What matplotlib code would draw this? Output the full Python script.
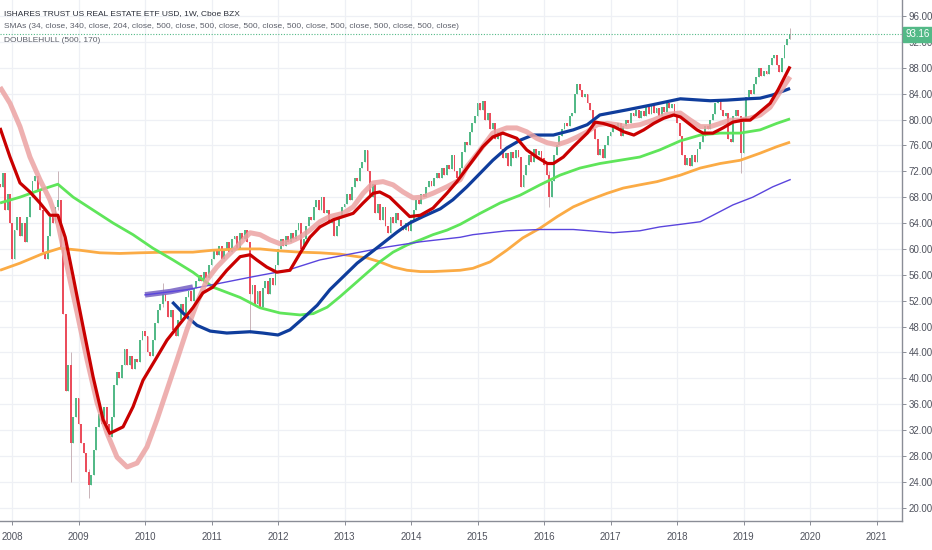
import matplotlib
matplotlib.use("Agg")
import matplotlib.pyplot as plt
import matplotlib.transforms as mtransforms
import numpy as np

# ---------------- data ----------------
# bi-weekly closes per calendar year
c2007 = [69.5, 71.8, 66.0, 68.5, 64.0]
c2008 = [58.5, 63, 65, 62, 64, 61, 65, 68, 70.5, 71.3, 69, 66, 59.5, 58.5, 62, 65, 64, 66.5, 67.5, 60, 50, 38, 42, 30, 34, 37]
c2009 = [33, 30, 28.5, 25.5, 23.5, 25, 29, 32.5, 34.5, 33, 35.5, 33, 31, 34, 39, 41, 40, 42, 44.5, 42, 43.5, 41.5, 43, 42.5, 46, 47.3]
c2010 = [46.5, 44, 43.5, 46, 48.5, 50.5, 51.5, 53, 52, 49.5, 50.5, 47.5, 46.5, 49, 51.5, 50, 52.5, 53.5, 52, 54, 55, 56, 55, 56.5, 55.5, 57.5]
c2011 = [58.5, 60, 59, 60.5, 58.5, 60, 61, 59.5, 61.5, 62, 60, 62.5, 61.5, 63, 61, 53, 54.5, 51.5, 53.5, 51, 54, 55, 53, 55.5, 54.5, 57.5]
c2012 = [60, 61.5, 60.5, 62, 61, 62.5, 61.5, 63, 64, 60, 61.5, 63.5, 65, 64.5, 66.5, 67.5, 66, 68, 65.5, 66, 64, 64.5, 62, 63.5, 65, 66.5]
c2013 = [67, 68.5, 67.5, 69.5, 71, 70.5, 72.5, 73.5, 75.3, 72, 68, 70, 65.5, 67, 64.5, 66.5, 63.5, 62.5, 65, 64, 65.5, 64.5, 63.5, 63, 64, 62.8]
c2014 = [64.5, 66, 67.5, 67, 68.5, 68, 69.5, 70.5, 69.8, 71, 71.8, 71, 72.5, 71.5, 73, 72.3, 74.5, 72, 71, 72.5, 75, 76.5, 76, 78, 79.5, 80.5]
c2015 = [82.5, 81.5, 82.8, 80, 81, 78.5, 79.5, 77, 78, 75.5, 74, 74.8, 72.8, 75, 74, 75.3, 74.2, 69.5, 71.5, 73, 74.5, 73.5, 75.5, 74.5, 75.2, 74]
c2016 = [73, 71.5, 68, 70.5, 74.5, 76, 77.5, 78.5, 79.5, 79, 80.5, 81, 84, 85.5, 84.5, 83.5, 84, 82.5, 81.5, 78.5, 77, 74.5, 75.5, 74, 76, 77.5]
c2017 = [78, 79, 78.5, 79.5, 77.5, 79, 80, 79.5, 81, 80.5, 81.5, 80.2, 81.3, 80.5, 82, 80.8, 82.3, 81, 81.8, 80.6, 82, 81.2, 82.5, 81.8, 82.4, 80.5]
c2018 = [79.5, 77.5, 74.5, 73, 74, 72.8, 74.5, 73.5, 75.5, 76.5, 77.5, 79, 78.5, 80, 80.8, 82.5, 83, 81.5, 80.5, 81, 77, 76.5, 80.5, 81.5, 80.5, 74.8]
c2019 = [80, 83.5, 84.5, 84, 85.5, 86.5, 88, 86.8, 87.5, 87, 88.5, 89.5, 90, 88.5, 87.3, 89.5, 91.5, 92.5, 93.16]
first_open = 70.0

# notable wicks (date, high, low)
wick_t  = [2008.69, 2008.88, 2009.15, 2010.27, 2011.58, 2016.08, 2018.96, 2019.69]
wick_hi = [72.0,    44.0,    26.0,    54.7,    61.0,    72.0,    80.0,    94.2]
wick_lo = [66.0,    24.0,    21.5,    51.0,    47.0,    66.5,    71.7,    92.5]

# indicator lines (decimal year, price)
red_t = [2007.82, 2007.97, 2008.12, 2008.27, 2008.42, 2008.57, 2008.69, 2008.80, 2008.92, 2009.07, 2009.22, 2009.37, 2009.47, 2009.67, 2009.82, 2009.97, 2010.18, 2010.33, 2010.53, 2010.72, 2010.87, 2011.02, 2011.23, 2011.43, 2011.58, 2011.68, 2011.83, 2011.98, 2012.18, 2012.33, 2012.48, 2012.63, 2012.83, 2012.98, 2013.13, 2013.28, 2013.43, 2013.53, 2013.68, 2013.83, 2013.98, 2014.14, 2014.33, 2014.54, 2014.69, 2014.93, 2015.08, 2015.23, 2015.38, 2015.59, 2015.74, 2015.89, 2016.05, 2016.14, 2016.29, 2016.44, 2016.65, 2016.77, 2016.89, 2017.05, 2017.20, 2017.35, 2017.50, 2017.65, 2017.80, 2017.95, 2018.05, 2018.15, 2018.30, 2018.39, 2018.54, 2018.69, 2018.84, 2018.99, 2019.10, 2019.25, 2019.40, 2019.52, 2019.62, 2019.70]
red_v = [78.7, 74.2, 70.2, 68.8, 67.1, 65.2, 65.2, 61.8, 55.7, 47.9, 40.2, 33.6, 31.5, 32.5, 35.6, 39.7, 43.3, 45.9, 48.5, 50.9, 53.2, 54.1, 56.7, 58.8, 59.1, 58.3, 57.2, 56.4, 56.7, 59.3, 61.8, 63.4, 64.5, 65.0, 65.5, 67.1, 68.6, 68.8, 68.0, 66.5, 65.0, 65.2, 66.3, 68.6, 70.4, 73.7, 75.8, 77.3, 77.9, 77.1, 75.3, 74.2, 73.2, 73.2, 74.2, 75.8, 77.9, 79.6, 79.4, 78.9, 78.1, 77.6, 78.4, 79.4, 80.2, 80.7, 80.4, 79.6, 78.4, 77.9, 77.9, 78.7, 79.6, 79.9, 79.9, 81.2, 82.5, 84.6, 86.6, 88.2]

pink_t = [2007.82, 2007.97, 2008.12, 2008.27, 2008.42, 2008.57, 2008.69, 2008.83, 2008.98, 2009.13, 2009.28, 2009.43, 2009.58, 2009.73, 2009.88, 2010.03, 2010.18, 2010.33, 2010.48, 2010.63, 2010.78, 2010.93, 2011.08, 2011.23, 2011.38, 2011.58, 2011.73, 2011.88, 2012.03, 2012.18, 2012.33, 2012.48, 2012.63, 2012.78, 2012.98, 2013.13, 2013.28, 2013.43, 2013.58, 2013.73, 2013.88, 2014.03, 2014.18, 2014.33, 2014.54, 2014.74, 2014.84, 2015.04, 2015.23, 2015.44, 2015.59, 2015.74, 2015.89, 2016.05, 2016.20, 2016.35, 2016.50, 2016.65, 2016.80, 2016.95, 2017.10, 2017.25, 2017.44, 2017.64, 2017.85, 2018.05, 2018.20, 2018.35, 2018.50, 2018.65, 2018.80, 2018.95, 2019.10, 2019.25, 2019.40, 2019.55, 2019.70]
pink_v = [85.0, 82.5, 78.9, 74.2, 70.7, 67.6, 64.0, 57.2, 50.1, 42.8, 36.2, 31.5, 27.8, 26.3, 26.9, 29.4, 33.6, 38.2, 42.8, 47.5, 51.6, 55.2, 57.2, 58.8, 60.3, 62.5, 62.2, 61.4, 60.8, 61.1, 61.8, 62.9, 64.2, 65.0, 65.5, 66.5, 68.6, 70.2, 70.4, 69.9, 68.8, 67.9, 68.0, 68.6, 69.6, 70.7, 72.7, 75.3, 77.9, 78.7, 78.7, 78.1, 77.1, 76.4, 76.1, 76.6, 77.3, 78.1, 79.2, 79.4, 79.2, 78.9, 79.2, 79.9, 80.8, 81.0, 79.9, 78.9, 78.9, 79.4, 79.9, 79.9, 80.2, 80.7, 81.9, 84.3, 86.6]

blue_t = [2010.41, 2010.57, 2010.78, 2010.98, 2011.23, 2011.58, 2011.77, 2012.00, 2012.18, 2012.38, 2012.59, 2012.78, 2012.98, 2013.19, 2013.38, 2013.58, 2013.79, 2013.98, 2014.18, 2014.44, 2014.63, 2014.84, 2015.04, 2015.23, 2015.44, 2015.64, 2015.83, 2016.14, 2016.44, 2016.65, 2016.84, 2017.25, 2017.64, 2018.05, 2018.50, 2018.75, 2019.05, 2019.25, 2019.44, 2019.70]
blue_v = [51.8, 50.1, 48.2, 47.3, 47.0, 47.2, 47.0, 46.7, 47.5, 49.3, 51.3, 53.7, 55.7, 57.8, 59.3, 60.9, 62.6, 64.0, 65.0, 66.2, 67.6, 69.6, 71.7, 73.7, 75.6, 76.8, 77.6, 77.6, 78.4, 79.2, 80.7, 81.5, 82.3, 83.2, 82.9, 83.0, 83.2, 83.3, 83.8, 84.8]

green_t = [2007.82, 2008.12, 2008.42, 2008.69, 2008.92, 2009.22, 2009.52, 2009.82, 2010.12, 2010.42, 2010.72, 2011.02, 2011.43, 2011.73, 2012.03, 2012.33, 2012.53, 2012.74, 2012.93, 2013.13, 2013.34, 2013.53, 2013.73, 2013.94, 2014.14, 2014.33, 2014.54, 2014.74, 2015.04, 2015.34, 2015.64, 2015.94, 2016.24, 2016.54, 2016.84, 2017.14, 2017.44, 2017.74, 2018.05, 2018.35, 2018.65, 2018.95, 2019.25, 2019.50, 2019.70]
green_v = [67.1, 68.0, 69.1, 70.0, 68.0, 66.0, 64.0, 62.2, 60.1, 58.3, 56.4, 54.1, 52.5, 50.9, 50.1, 49.8, 50.0, 51.0, 52.6, 54.4, 56.3, 58.0, 59.5, 60.6, 61.4, 62.2, 62.9, 63.8, 65.5, 67.1, 68.3, 69.9, 71.4, 72.5, 73.2, 73.7, 74.2, 75.3, 76.7, 77.6, 77.9, 77.9, 78.4, 79.4, 80.1]

orange_t = [2007.82, 2008.12, 2008.47, 2008.72, 2009.02, 2009.32, 2009.62, 2009.92, 2010.33, 2010.72, 2011.02, 2011.43, 2011.73, 2012.03, 2012.33, 2012.63, 2012.93, 2013.13, 2013.34, 2013.53, 2013.73, 2013.94, 2014.14, 2014.33, 2014.54, 2014.74, 2014.93, 2015.19, 2015.44, 2015.68, 2015.94, 2016.20, 2016.44, 2016.69, 2016.95, 2017.19, 2017.44, 2017.70, 2018.05, 2018.35, 2018.65, 2018.95, 2019.25, 2019.50, 2019.70]
orange_v = [56.7, 57.8, 59.3, 60.1, 59.8, 59.4, 59.3, 59.4, 59.5, 59.5, 59.8, 60.0, 60.0, 59.7, 59.5, 59.4, 59.2, 58.9, 58.6, 58.0, 57.2, 56.7, 56.5, 56.5, 56.6, 56.7, 57.0, 58.0, 59.8, 61.7, 63.2, 65.0, 66.5, 67.6, 68.6, 69.4, 69.9, 70.4, 71.4, 72.5, 73.2, 73.7, 74.8, 75.8, 76.5]

purple_t = [2010.00, 2010.63, 2011.13, 2011.62, 2012.14, 2012.63, 2013.13, 2013.64, 2014.14, 2014.74, 2014.93, 2015.44, 2015.94, 2016.44, 2016.69, 2017.04, 2017.44, 2017.74, 2018.05, 2018.35, 2018.54, 2018.84, 2019.14, 2019.44, 2019.70]
purple_v = [52.9, 53.7, 54.7, 55.7, 56.7, 58.3, 59.3, 60.3, 61.1, 61.8, 62.2, 62.8, 63.0, 63.0, 62.8, 62.5, 62.8, 63.4, 63.8, 64.2, 65.2, 66.8, 68.0, 69.6, 70.7]

purple_thick_t = [2010.00, 2010.38, 2010.72]
purple_thick_v = [52.9, 53.4, 54.1]

last_price = 93.16
price_ticks = [20, 24, 28, 32, 36, 40, 44, 48, 52, 56, 60, 64, 68, 72, 76, 80, 84, 88, 92, 96]
year_ticks = [2008, 2009, 2010, 2011, 2012, 2013, 2014, 2015, 2016, 2017, 2018, 2019, 2020, 2021]

title_line = "ISHARES TRUST US REAL ESTATE ETF USD, 1W, Cboe BZX"
sma_line = "SMAs (34, close, 340, close, 204, close, 500, close, 500, close, 500, close, 500, close, 500, close, 500, close, 500, close)"
hull_line = "DOUBLEHULL (500, 170)"

# ---------------- build candles ----------------
years = [(2007.82, c2007)] + [(2008 + k, c) for k, c in enumerate(
    [c2008, c2009, c2010, c2011, c2012, c2013, c2014, c2015, c2016, c2017, c2018, c2019])]
ct, cc = [], []
for start, arr in years:
    for i, v in enumerate(arr):
        ct.append(start + i / 26.0)
        cc.append(v)
ct = np.array(ct)
cc = np.array(cc)
co = np.concatenate([[first_open], cc[:-1]])

UP = "#53b987"
DOWN = "#eb4d5c"

plt.rcParams['font.family'] = ['Liberation Sans', 'DejaVu Sans']

fig = plt.figure(figsize=(9.32, 5.5), dpi=100)
ax = fig.add_axes([0, 29 / 550, 902 / 932, 521 / 550])
ax.set_xlim(2007.8195, 2021.383)
ax.set_ylim(17.95, 98.47)

# grid
for p in price_ticks:
    ax.axhline(p, color="#eef0f5", lw=0.9, zorder=0)
for yv in year_ticks:
    ax.axvline(yv, color="#eef0f5", lw=0.9, zorder=0)

# candles
w = 0.028
cols = np.where(cc >= co, UP, DOWN)
top = np.maximum(cc, co)
bot = np.minimum(cc, co)
ax.vlines(ct, bot, top, colors=cols, lw=0.5, alpha=0.7, zorder=2)
ax.bar(ct, np.maximum(top - bot, 0.25), bottom=bot, width=w, color=cols, lw=0, zorder=3)
# notable wicks
for t, hi, lo in zip(wick_t, wick_hi, wick_lo):
    k = int(np.argmin(np.abs(ct - t)))
    ax.vlines(ct[k], lo, hi, colors="#c9b3b8", lw=0.7, zorder=2)

# indicator lines
ax.plot(orange_t, orange_v, color="#fbab45", lw=2.0, zorder=4, solid_capstyle="butt")
ax.plot(green_t, green_v, color="#5fe55a", lw=2.0, zorder=4, solid_capstyle="butt")
ax.plot(purple_thick_t, purple_thick_v, color="#7c68c6", lw=4.0, alpha=0.9, zorder=4, solid_capstyle="butt")
ax.plot(purple_t, purple_v, color="#5a45dd", lw=1.0, zorder=5)
ax.plot(blue_t, blue_v, color="#0f3d9c", lw=2.3, zorder=5, solid_capstyle="butt")
ax.plot(pink_t, pink_v, color="#eba3a3", lw=3.6, alpha=0.85, zorder=5, solid_capstyle="butt")
ax.plot(red_t, red_v, color="#c90000", lw=2.3, zorder=6, solid_capstyle="butt")

# last price line and label
ax.axhline(last_price, color=UP, lw=0.8, ls=(0, (1, 1.5)), zorder=7)
trans = mtransforms.blended_transform_factory(ax.transAxes, ax.transData)
ax.text(1.004, last_price, f"{last_price:.2f}", transform=trans, ha="left", va="center",
        fontsize=7, color="white", zorder=10, clip_on=False,
        bbox=dict(boxstyle="square,pad=0.25", fc=UP, ec=UP))

# axes styling
for s in ["top", "left"]:
    ax.spines[s].set_visible(False)
ax.spines["right"].set_color("#8a8d96")
ax.spines["bottom"].set_color("#8a8d96")
ax.spines["right"].set_linewidth(1.0)
ax.spines["bottom"].set_linewidth(1.0)
ax.yaxis.tick_right()
ax.set_yticks(price_ticks)
ax.set_yticklabels([f"{p:.2f}" for p in price_ticks])
ax.set_xticks(year_ticks)
ax.set_xticklabels([str(y) for y in year_ticks])
ax.tick_params(axis="y", length=3, width=0.7, color="#8a8d96", labelsize=7, labelcolor="#50535e", pad=2)
ax.tick_params(axis="x", length=3, width=0.7, color="#8a8d96", labelsize=7, labelcolor="#50535e", pad=5)

# header
fig.text(4 / 932, 1 - 14 / 550, title_line, fontsize=6.0, color="#2a2e39", va="center", ha="left")
fig.text(4 / 932, 1 - 27 / 550, sma_line, fontsize=6.0, color="#5d606b", va="center", ha="left")
fig.text(4 / 932, 1 - 41 / 550, hull_line, fontsize=6.0, color="#5d606b", va="center", ha="left")

fig.savefig("out.png", dpi=100, facecolor="white")
